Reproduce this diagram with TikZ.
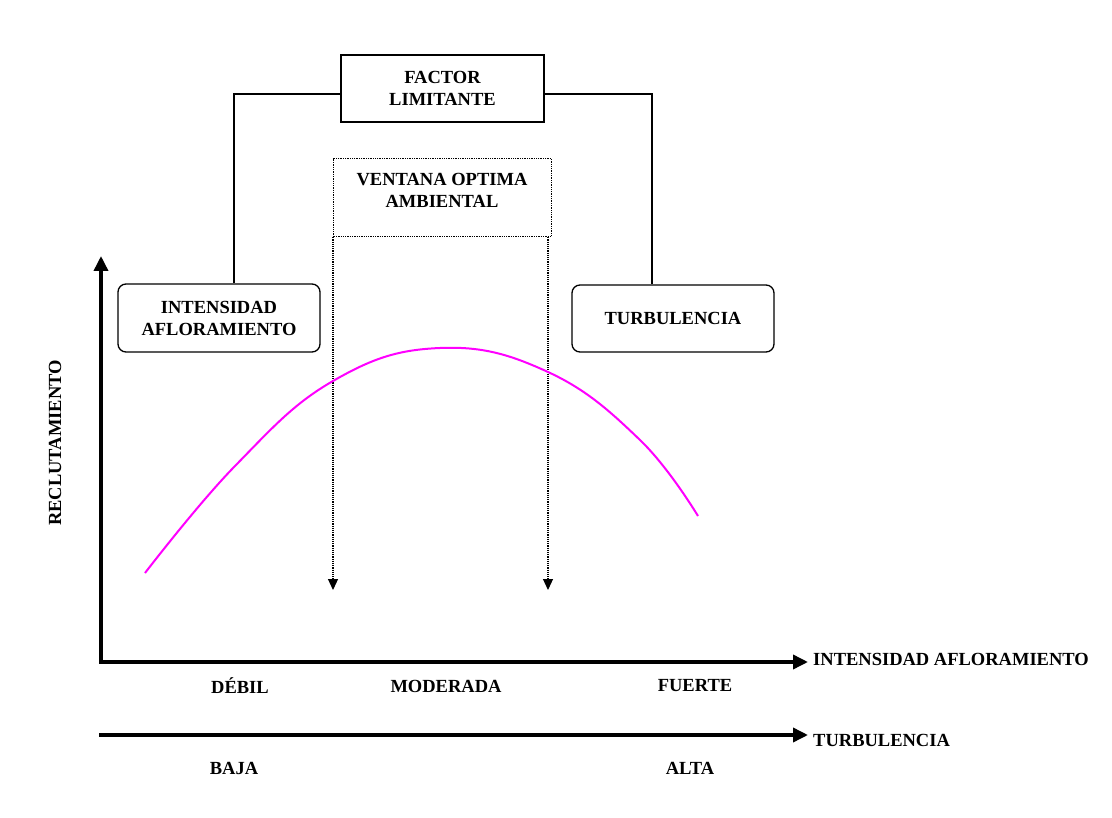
\documentclass[tikz,border=0pt]{standalone}
\usepackage{fontspec}
\setmainfont{Liberation Serif}
\usetikzlibrary{arrows.meta}
\definecolor{curvecol}{RGB}{255,0,255}
\begin{document}
\begin{tikzpicture}[x=1pt,y=-1pt,
  lbl/.style={font=\fontsize{18.5}{22}\selectfont\bfseries, inner sep=0pt},
  box/.style={draw, line width=1.3pt, align=center, font=\fontsize{18.5}{22}\selectfont\bfseries, inner sep=0pt},
  axis/.style={line width=3.5pt, -{Triangle[length=15pt,width=14pt]}},
  conn/.style={line width=1.3pt},
  dotarrow/.style={densely dotted, line width=1.2pt, -{Triangle[length=11pt,width=10pt]}}]
\useasboundingbox (0,0) rectangle (1112,818);
% boxes
\node[box, minimum width=203pt, minimum height=67pt] (factor) at (442.5,88.5) {FACTOR\\LIMITANTE};
\node[box, densely dotted, minimum width=218pt, minimum height=78pt, anchor=north west] (ventana) at (333,158) {};
\node[lbl, align=center] (ventanatxt) at (442,190) {VENTANA OPTIMA\\AMBIENTAL};
\node[box, rounded corners=8pt, minimum width=202pt, minimum height=68pt] (intens) at (219,318) {INTENSIDAD\\AFLORAMIENTO};
\node[box, rounded corners=8pt, minimum width=202pt, minimum height=67pt] (turb) at (673,318.5) {TURBULENCIA};
% connectors from factor box
\coordinate (fl) at (234,94);
\coordinate (fr) at (652,94);
\draw[conn] (factor.west |- fl) -- (fl) -- (intens.north -| fl);
\draw[conn] (factor.east |- fr) -- (fr) -- (turb.north -| fr);
% dotted arrows
\coordinate (d1) at (333,590);
\coordinate (d2) at (548,590);
\draw[dotarrow] (ventana.south west) -- (d1);
\draw[dotarrow] (ventana.south -| d2) -- (d2);
% axes
\coordinate (o) at (101,662);
\coordinate (ytop) at (101,256);
\coordinate (xend) at (808,662);
\coordinate (t0) at (99,735);
\coordinate (tend) at (808,735);
\draw[axis] (101,663.75) -- (ytop);
\draw[axis] (99.25,662) -- (xend);
\draw[axis] (t0) -- (tend);
% axis labels
\node[lbl, anchor=west] (xlab) at (813,659) {INTENSIDAD AFLORAMIENTO};
\node[lbl, anchor=west] (tlab) at (813,740) {TURBULENCIA};
\node[lbl, rotate=90] (ylab) at (55,443) {RECLUTAMIENTO};
\node[lbl] (debil) at (240,686) {DÉBIL};
\node[lbl] (mod) at (446,686) {MODERADA};
\node[lbl] (fuerte) at (695,686) {FUERTE};
\node[lbl] (baja) at (234,768) {BAJA};
\node[lbl] (alta) at (690,768) {ALTA};
% curve
\draw[curvecol, line width=2pt] plot[smooth, tension=0.7] coordinates {(145,573) (235,466) (333,381) (440,348) (548,372) (640,440) (698,516)};
\end{tikzpicture}
\end{document}
